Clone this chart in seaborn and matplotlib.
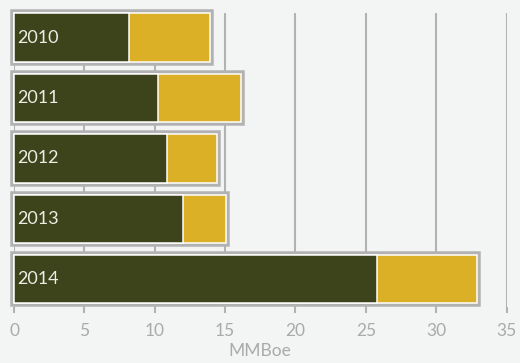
import matplotlib
matplotlib.use("Agg")
import matplotlib.pyplot as plt
import seaborn as sns
import pandas as pd
from matplotlib.transforms import offset_copy

years = ["2010", "2011", "2012", "2013", "2014"]
dark_values = [8.2, 10.2, 10.9, 12.0, 25.8]
gold_values = [5.7, 5.9, 3.5, 3.1, 7.1]
x_ticks = [0, 5, 10, 15, 20, 25, 30, 35]
x_label = "MMBoe"

totals = [d + g for d, g in zip(dark_values, gold_values)]
df = pd.DataFrame({"year": years, "dark": dark_values, "total": totals})

DARK = "#3d441c"
GOLD = "#dbb026"
GRID = "#b2b2b2"
TEXT = "#aaaaaa"
BG = "#f3f4f4"

plt.rcParams["font.family"] = ["Lato", "DejaVu Sans"]

fig = plt.figure(figsize=(5.2, 3.63), dpi=100, facecolor=BG)
ax = fig.add_axes([14 / 520, 1 - 307 / 363, 492.5 / 520, 294 / 363])
ax.set_facecolor(BG)

# gray frame around each stacked bar
sns.barplot(data=df, x="total", y="year", order=years, orient="h", ax=ax,
            color="white", edgecolor=GRID, linewidth=5.4, width=0.80,
            saturation=1, zorder=2)
# gold (full stack) then dark segment on top
sns.barplot(data=df, x="total", y="year", order=years, orient="h", ax=ax,
            color=GOLD, edgecolor="white", linewidth=1.1, width=0.80,
            saturation=1, zorder=3)
sns.barplot(data=df, x="dark", y="year", order=years, orient="h", ax=ax,
            color=DARK, edgecolor="white", linewidth=1.1, width=0.80,
            saturation=1, zorder=4)

for p in ax.patches:
    p.set_clip_on(False)

ax.set_xlim(0, 35)
ax.set_ylim(4.46, -0.406)
ax.set_xticks(x_ticks)
ax.set_xticklabels([str(t) for t in x_ticks])
ax.set_yticks([])
ax.set_ylabel("")
ax.set_xlabel(x_label, color=TEXT, fontsize=12.5, labelpad=3)
ax.xaxis.grid(True, color=GRID, linewidth=1.5, zorder=0)
ax.set_axisbelow(True)
ax.tick_params(axis="x", length=4.5, width=1.5, color=GRID, labelcolor=TEXT,
               labelsize=12.5, pad=7)
for s in ax.spines.values():
    s.set_visible(False)

trans = offset_copy(ax.transData, fig=fig, x=3, y=0, units="dots")
for i, yr in enumerate(years):
    ax.text(0, i, yr, transform=trans, ha="left", va="center",
            color="#eeede4", fontsize=13, zorder=6)

fig.savefig("out.png", dpi=100, facecolor=BG)
